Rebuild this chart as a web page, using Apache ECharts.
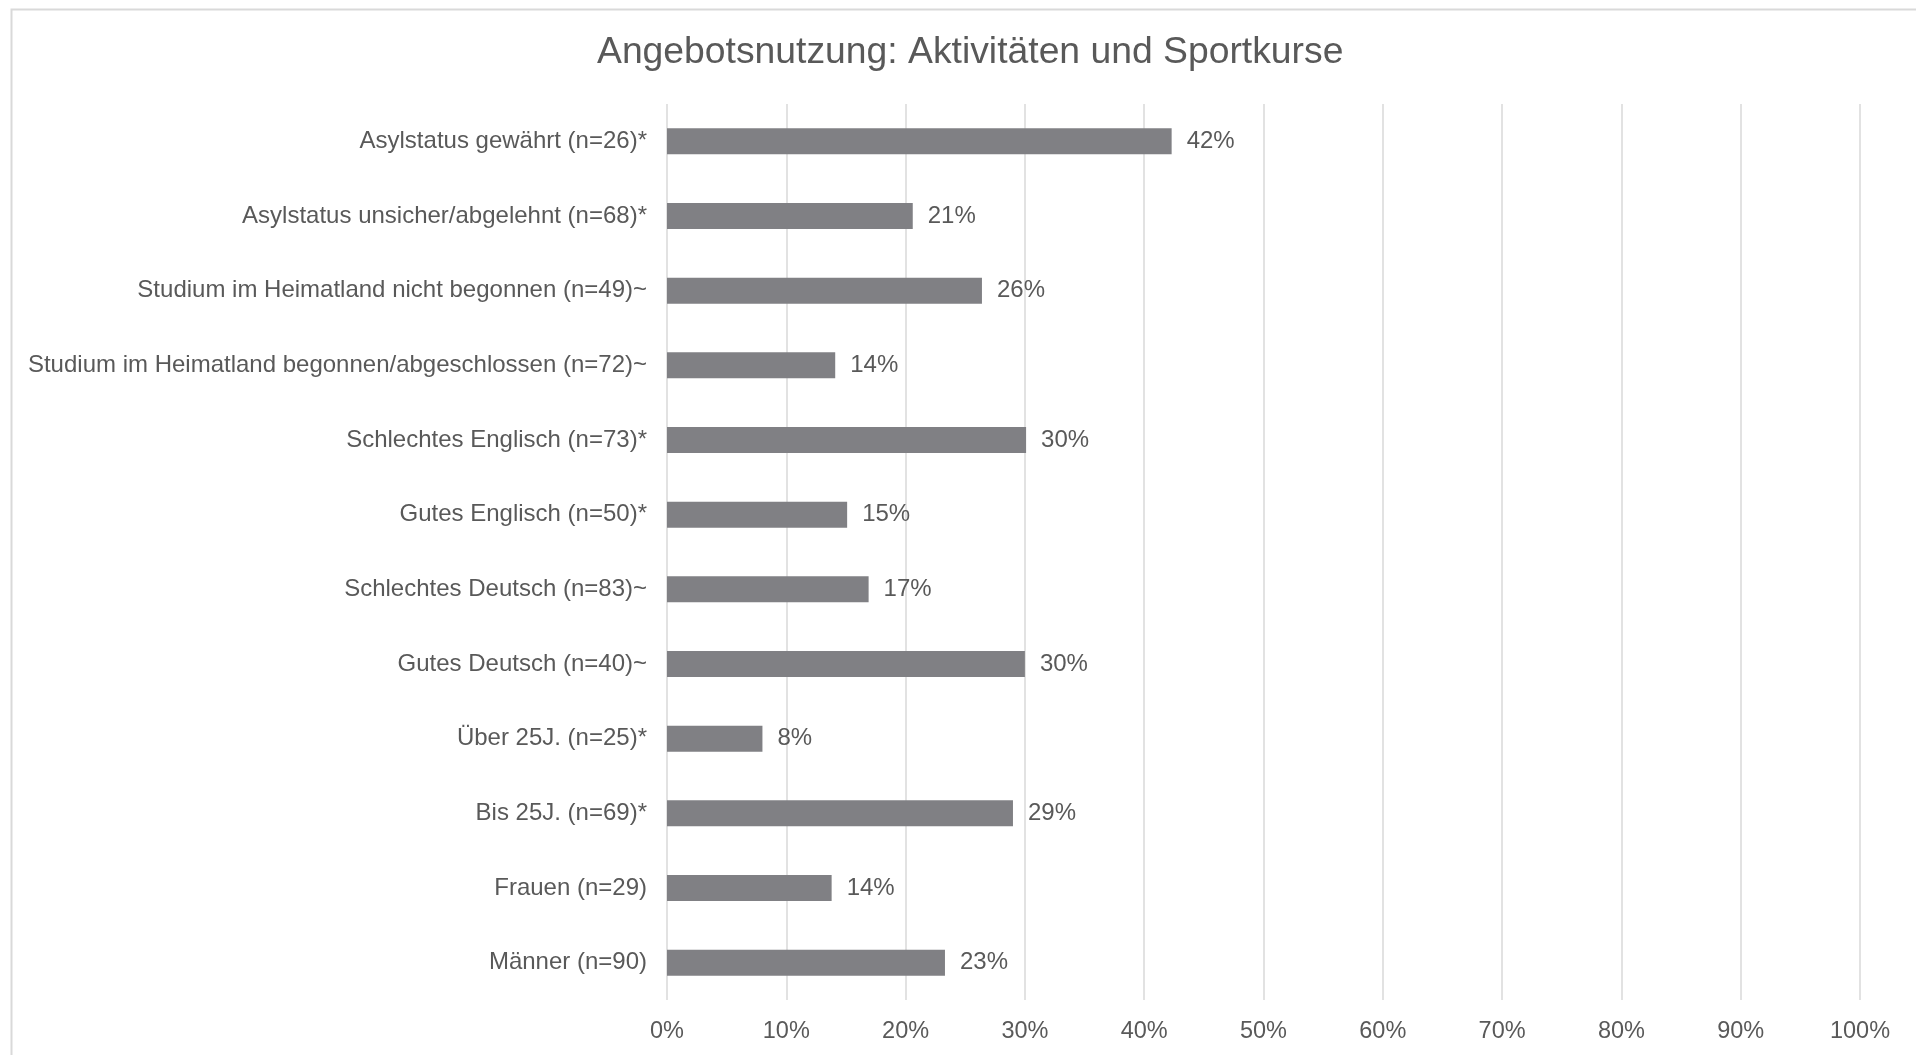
<!DOCTYPE html>
<html>
<head>
<meta charset="utf-8">
<title>Angebotsnutzung: Aktivitäten und Sportkurse</title>
<script src="https://cdn.jsdelivr.net/npm/echarts@6/dist/echarts.min.js"></script>
<style>
    html, body { margin: 0; padding: 0; background: #ffffff; }
    #chart { width: 1916px; height: 1055px; }
</style>
</head>
<body>
<div id="chart"></div>
<script>
// Gruppen (von oben nach unten)
const categories = [
    'Asylstatus gewährt (n=26)*',
    'Asylstatus unsicher/abgelehnt (n=68)*',
    'Studium im Heimatland nicht begonnen (n=49)~',
    'Studium im Heimatland begonnen/abgeschlossen (n=72)~',
    'Schlechtes Englisch (n=73)*',
    'Gutes Englisch (n=50)*',
    'Schlechtes Deutsch (n=83)~',
    'Gutes Deutsch (n=40)~',
    'Über 25J. (n=25)*',
    'Bis 25J. (n=69)*',
    'Frauen (n=29)',
    'Männer (n=90)'
];

// Anteil in Prozent
const shares = [42.3, 20.6, 26.4, 14.1, 30.1, 15.1, 16.9, 30.0, 8.0, 29.0, 13.8, 23.3];

const axisTicks = [0, 10, 20, 30, 40, 50, 60, 70, 80, 90, 100];

const textColor = '#595959';
const fontFamily = '"Liberation Sans", Arial, sans-serif';

const chart = echarts.init(document.getElementById('chart'));

const option = {
    backgroundColor: '#ffffff',
    textStyle: { fontFamily: fontFamily, color: textColor },
    title: {
        text: 'Angebotsnutzung: Aktivitäten und Sportkurse',
        left: 592,
        top: 29,
        textStyle: {
            fontFamily: fontFamily,
            fontSize: 37.3,
            fontWeight: 'normal',
            color: textColor
        }
    },
    // heller Rahmen wie im Original
    graphic: [{
        type: 'rect',
        left: 9,
        top: 7,
        shape: { width: 1920, height: 1060 },
        style: { fill: 'none', stroke: '#d9d9d9', lineWidth: 2 },
        silent: true
    }],
    grid: {
        left: 667,
        right: 56,
        top: 104,
        bottom: 55
    },
    xAxis: {
        type: 'value',
        min: axisTicks[0],
        max: axisTicks[axisTicks.length - 1],
        interval: axisTicks[1] - axisTicks[0],
        axisLine: { show: false },
        axisTick: { show: false },
        axisLabel: {
            formatter: '{value}%',
            fontSize: 23.5,
            color: textColor,
            margin: 20
        },
        splitLine: { lineStyle: { color: '#d9d9d9', width: 1.5 } }
    },
    yAxis: {
        type: 'category',
        data: categories,
        inverse: true,
        axisLine: { show: false },
        axisTick: { show: false },
        axisLabel: {
            fontSize: 24,
            color: textColor,
            margin: 20
        }
    },
    series: [{
        type: 'bar',
        data: shares,
        barWidth: 26,
        itemStyle: { color: '#808084' },
        label: {
            show: true,
            position: 'right',
            distance: 15,
            fontSize: 24,
            color: textColor,
            formatter: p => Math.round(p.value) + '%'
        }
    }]
};

chart.setOption(option);
window.addEventListener('resize', () => chart.resize());
</script>
</body>
</html>
